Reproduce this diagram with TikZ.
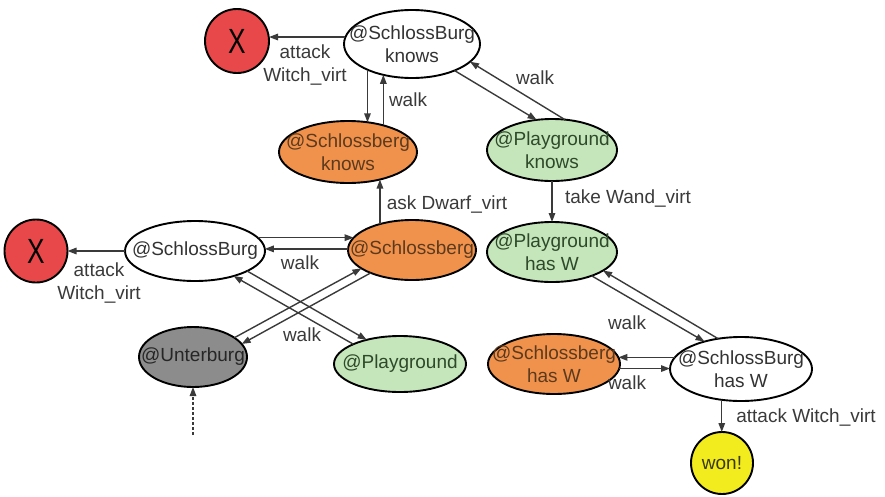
\documentclass[tikz,border=0pt]{standalone}
\usepackage{graphicx}
\usepackage{fontspec}
\setmainfont{Liberation Sans}
\usetikzlibrary{shapes.geometric,arrows.meta}

\definecolor{nodered}{HTML}{E8484A}
\definecolor{nodeorange}{HTML}{F0924C}
\definecolor{nodegreen}{HTML}{C5E6BB}
\definecolor{nodegray}{HTML}{8C8C8C}
\definecolor{nodeyellow}{HTML}{F2EC1E}
\definecolor{edgegray}{HTML}{3A3A3A}
\definecolor{txtwhite}{HTML}{333333}
\definecolor{txtorange}{HTML}{5C3A1E}
\definecolor{txtgreen}{HTML}{2E4A2A}
\definecolor{txtgray}{HTML}{262626}
\definecolor{txtyellow}{HTML}{3A3A10}

\newcommand{\failmark}{\scalebox{0.75}[1]{\fontsize{35}{35}\selectfont X}}

\begin{document}
\begin{tikzpicture}[x=1pt,y=-1pt,
  every node/.style={font=\fontsize{19}{23}\selectfont},
  state/.style={ellipse, draw=black, line width=1.9pt, inner sep=0pt, outer sep=0pt},
  endstate/.style={circle, draw=black, line width=1.9pt, inner sep=0pt, outer sep=0pt},
  stxt/.style={align=center, inner sep=0pt, text=#1},
  elbl/.style={align=center, inner sep=0pt, text=edgegray},
  conn/.style={draw=edgegray, line width=1.4pt, -{Triangle[length=9pt,width=6.5pt]}},
]
\useasboundingbox (0,0) rectangle (885,496);

% ---- states ----
\node[endstate, fill=nodered, minimum size=64pt,
  label={[stxt=black,name=x1-t]center:\failmark}] (x1) at (237,41) {};
\node[state, fill=white, minimum width=136pt, minimum height=68pt,
  label={[stxt=txtwhite,name=sbk-t]center:@SchlossBurg\\knows}] (sbk) at (412,44) {};
\node[state, fill=nodeorange, minimum width=138pt, minimum height=62pt,
  label={[stxt=txtorange,name=sbkn-t]center:@Schlossberg\\knows}] (sbkn) at (348,152) {};
\node[state, fill=nodegreen, minimum width=130pt, minimum height=62pt,
  label={[stxt=txtgreen,name=pgk-t]center:@Playground\\knows}] (pgk) at (552,150) {};

\node[endstate, fill=nodered, minimum size=63pt,
  label={[stxt=black,name=x2-t]center:\failmark}] (x2) at (36,251) {};
\node[state, fill=white, minimum width=140pt, minimum height=60pt,
  label={[stxt=txtwhite,name=sbu-t]center:@SchlossBurg}] (sbu) at (195,251) {};
\node[state, fill=nodeorange, minimum width=128pt, minimum height=60pt,
  label={[stxt=txtorange,name=sbg-t]center:@Schlossberg}] (sbg) at (412,250) {};
\node[state, fill=nodegreen, minimum width=130pt, minimum height=60pt,
  label={[stxt=txtgreen,name=pgw-t]center:@Playground\\has W}] (pgw) at (552,252) {};

\node[state, fill=nodegray, minimum width=108pt, minimum height=60pt,
  label={[stxt=txtgray,name=unt-t]center:@Unterburg}] (unt) at (193,357) {};
\node[state, fill=nodegreen, minimum width=132pt, minimum height=56pt,
  label={[stxt=txtgreen,name=pg-t]center:@Playground}] (pg) at (400,364) {};
\node[state, fill=nodeorange, minimum width=132pt, minimum height=60pt,
  label={[stxt=txtorange,name=sbw-t]center:@Schlossberg\\has W}] (sbw) at (554,364) {};
\node[state, fill=white, minimum width=142pt, minimum height=64pt,
  label={[stxt=txtwhite,name=sbbw-t]center:@SchlossBurg\\has W}] (sbbw) at (741,369) {};
\node[endstate, fill=nodeyellow, minimum size=62pt,
  label={[stxt=txtyellow,name=won-t]center:won!}] (won) at (722,463) {};

\coordinate (entry) at (193,435);

% ---- transitions ----
\draw[conn] (sbk.174) -- (sbk.174 -| x1.east);
\draw[conn] (sbk.210) -- (sbk.210 |- sbkn.56);
\draw[conn] (sbkn.37) -- (sbkn.37 |- sbk.227);
\draw[conn] (sbk.328) -- (pgk.117);
\draw[conn] (pgk.67) -- (sbk.343);
\draw[conn] (pgk.south) -- (pgw.north);
\draw[conn] (sbg.141) -- (sbg.141 |- sbkn.319);

\draw[conn] (sbu.west) -- (x2.east);
\draw[conn] (sbu.12) -- (sbu.12 -| sbg.168);
\draw[conn] (sbg.179) -- (sbg.179 -| sbu.2);
\draw[conn] (sbu.339) -- (pg.144);
\draw[conn] (pg.157) -- (sbu.327);
\draw[conn] (unt.25) -- (sbg.200);
\draw[conn] (sbg.209) -- (unt.15);
\draw[conn, dash pattern=on 3pt off 2pt] (entry) -- (unt.south);

\draw[conn] (pgw.329) -- (sbbw.143);
\draw[conn] (sbbw.127) -- (pgw.340);
\draw[conn] (sbbw.170) -- (sbbw.170 -| sbw.6);
\draw[conn] (sbw.356) -- (sbw.356 -| sbbw.180);
\draw[conn] (sbbw.238) -- (sbbw.238 |- won.north);

% ---- transition labels ----
\node[elbl] (l-att1) at (305,65) {attack\\Witch\_virt};
\node[elbl] (l-walk1) at (408,100) {walk};
\node[elbl] (l-walk2) at (535,78) {walk};
\node[elbl] (l-take) at (628,198) {take Wand\_virt};
\node[elbl] (l-ask) at (447,204) {ask Dwarf\_virt};
\node[elbl] (l-att2) at (99,283) {attack\\Witch\_virt};
\node[elbl] (l-walk3) at (300,263) {walk};
\node[elbl] (l-walk4) at (302,335) {walk};
\node[elbl] (l-walk5) at (627,323) {walk};
\node[elbl] (l-walk6) at (627,383) {walk};
\node[elbl] (l-att3) at (806,417) {attack Witch\_virt};
\end{tikzpicture}
\end{document}
